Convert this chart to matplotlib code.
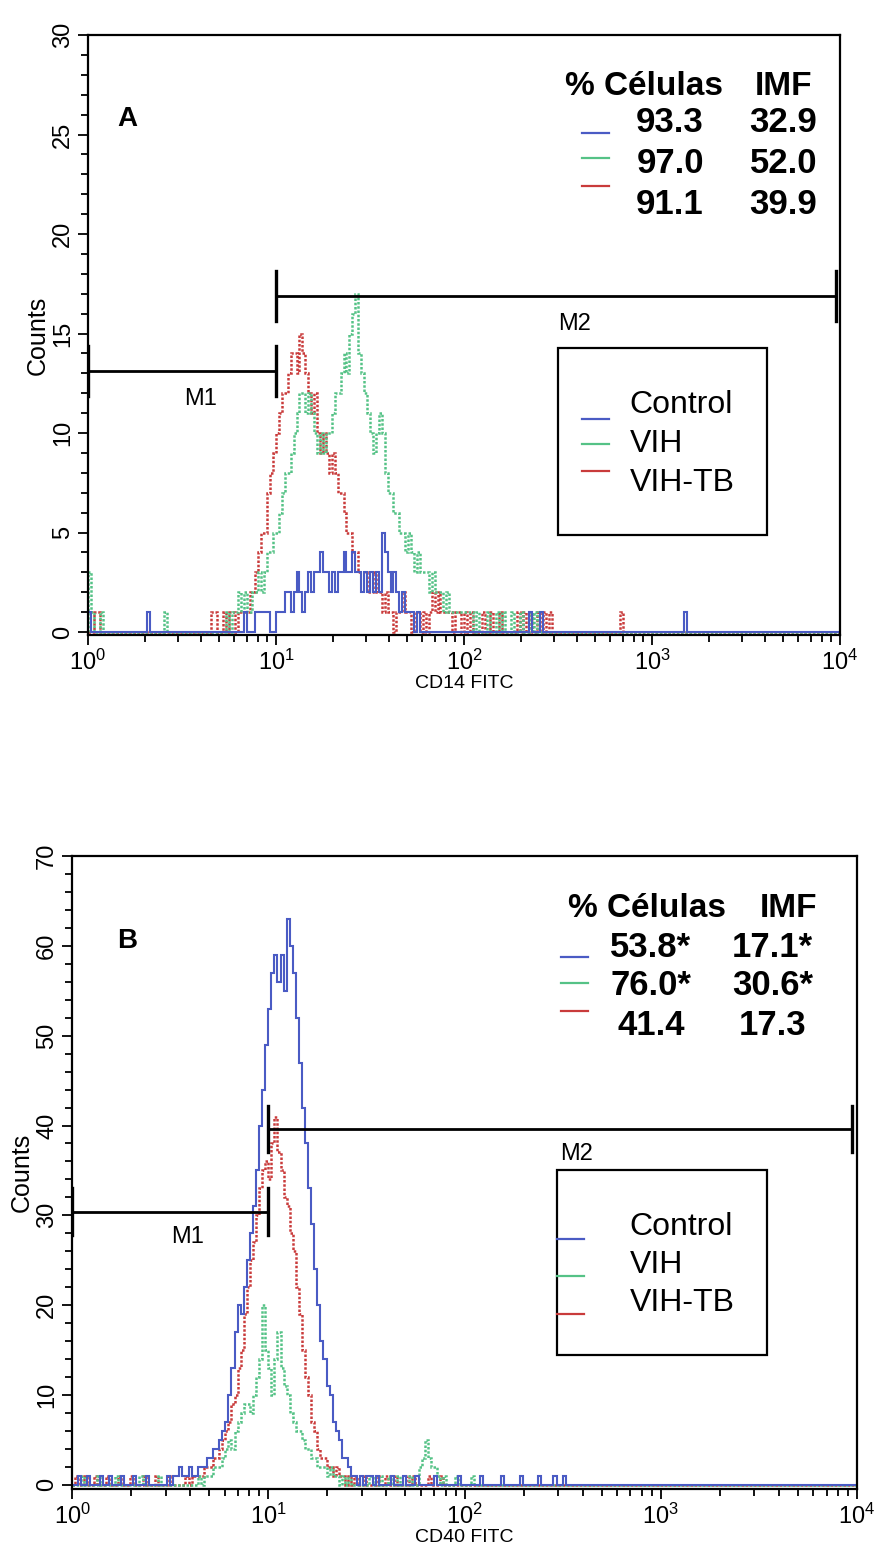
import numpy as np
import matplotlib.pyplot as plt
from matplotlib.patches import Rectangle
from matplotlib.ticker import LogLocator, MultipleLocator, NullFormatter

plt.rcParams['font.family'] = ['Liberation Sans', 'DejaVu Sans']
plt.rcParams['mathtext.default'] = 'regular'

# histogram channels: 256 channels over 4 decades (64 per decade)
N_CH = 256
CH_PER_DEC = 64

# ---- panel A: CD14 FITC ----
a_ctrl_start = 52
a_ctrl = [0, 1, 0, 0, 0, 1, 1, 1, 1, 1, 0, 0, 1, 1, 1, 2, 2, 1, 2, 3,
          2, 1, 2, 3, 2, 3, 3, 4, 3, 3, 2, 3, 2, 3, 3, 4, 3, 3, 4, 3,
          3, 2, 3, 2, 3, 2, 3, 2, 5, 4, 3, 2, 3, 2, 1, 2, 1, 1, 1, 0,
          1, 0, 0]
a_ctrl_extra = {0: 1, 20: 1, 150: 1, 154: 1, 203: 1}

a_vih_start = 46
a_vih = [0, 1, 0, 1, 1, 2, 1, 2, 1, 1, 2, 2, 3, 2, 3, 4, 4, 5, 5, 6,
         7, 8, 8, 9, 10, 11, 12, 12, 11, 12, 11, 10, 9, 10, 9, 10, 10, 11, 12, 12,
         13, 14, 13, 15, 16, 17, 14, 13, 12, 11, 10, 9, 10, 11, 10, 8, 7, 7, 6, 6,
         5, 5, 4, 5, 4, 3, 4, 3, 3, 3, 2, 3, 2, 2, 2, 1, 2, 1, 1, 1,
         1, 1, 1, 1, 1, 0, 1]
a_vih_extra = {0: 3, 1: 1, 4: 1, 26: 1, 136: 1, 139: 1, 141: 1, 144: 1,
               147: 1, 150: 1, 152: 1}

a_tb_start = 38
a_tb = [0, 0, 0, 0, 1, 1, 0, 0, 1, 0, 1, 1, 0, 1, 1, 1, 1, 2, 2, 3,
        4, 5, 5, 7, 8, 9, 10, 11, 12, 12, 13, 14, 14, 13, 15, 14, 13, 12, 11, 12,
        10, 9, 10, 9, 8, 9, 8, 7, 7, 6, 5, 5, 4, 4, 3, 3, 3, 2, 2, 3,
        2, 2, 1, 2, 1, 1, 0, 1, 1, 2, 1, 1, 0, 1, 1, 0, 1, 0, 1, 2,
        1, 2, 1, 1, 1, 1, 0, 1, 1, 0, 1, 0, 1]
a_tb_extra = {2: 1, 3: 1, 134: 1, 137: 1, 140: 1, 146: 1, 148: 1, 150: 1,
              153: 1, 155: 1, 157: 1, 181: 1}

# ---- panel B: CD40 FITC ----
b_ctrl_start = 30
b_ctrl = [0, 1, 0, 1, 1, 2, 1, 1, 2, 1, 1, 2, 2, 2, 3, 3, 4, 4, 5, 6,
          7, 10, 13, 17, 20, 19, 22, 25, 28, 31, 35, 40, 44, 49, 53, 57, 59, 56, 59, 55,
          63, 60, 57, 52, 47, 42, 38, 33, 29, 24, 20, 16, 14, 11, 10, 7, 6, 5, 3, 3,
          2, 1, 1, 0, 1, 0, 1, 1, 0, 1, 0]
b_ctrl_extra = {2: 1, 5: 1, 9: 1, 12: 1, 16: 1, 20: 1, 24: 1, 104: 1, 108: 1,
                112: 1, 118: 1, 126: 1, 133: 1, 140: 1, 146: 1, 152: 1, 157: 1, 160: 1}

b_vih_start = 40
b_vih = [0, 1, 0, 1, 1, 1, 2, 2, 2, 3, 4, 5, 4, 6, 7, 8, 9, 9, 8, 10,
         12, 14, 20, 15, 13, 10, 14, 17, 13, 11, 10, 8, 7, 6, 6, 5, 4, 4, 3, 3,
         2, 2, 2, 1, 2, 1, 1, 0, 1, 0, 1]
b_vih_extra = {3: 1, 8: 1, 14: 1, 22: 1, 28: 1, 97: 1, 100: 1, 103: 1, 106: 1,
               110: 1, 113: 2, 114: 3, 115: 5, 116: 3, 117: 2, 118: 2, 119: 1,
               121: 1, 125: 1, 130: 1}

b_tb_start = 36
b_tb = [0, 1, 0, 1, 1, 1, 1, 2, 2, 2, 3, 3, 4, 5, 6, 7, 9, 10, 13, 15,
        19, 22, 25, 27, 30, 33, 35, 36, 34, 38, 41, 37, 35, 32, 31, 28, 26, 22, 19, 15,
        12, 10, 7, 6, 4, 3, 3, 2, 2, 1, 2, 1, 1, 0, 1, 0, 1]
b_tb_extra = {1: 1, 4: 1, 7: 1, 11: 1, 15: 1, 19: 1, 23: 1, 27: 1, 31: 1,
              95: 1, 99: 1, 102: 1, 105: 1, 109: 1, 111: 1, 116: 1, 120: 1}

groups = ['Control', 'VIH', 'VIH-TB']
colors = ['#4a5bc4', '#55c286', '#c93b3b']

a_pct = ['93.3', '97.0', '91.1']
a_imf = ['32.9', '52.0', '39.9']
b_pct = ['53.8*', '76.0*', '41.4']
b_imf = ['17.1*', '30.6*', '17.3']

# marker gates: (start, end, level)
a_gates = {'M1': (1, 10, 13.1), 'M2': (10, 9500, 16.9)}
b_gates = {'M1': (1, 10, 30.4), 'M2': (10, 9400, 39.6)}


def build(start, run, extra):
    h = np.zeros(N_CH)
    h[start:start + len(run)] = run
    for c, v in extra.items():
        h[c] = v
    return h


edges = 10 ** (np.arange(N_CH + 1) / CH_PER_DEC)

fig = plt.figure(figsize=(8.85, 15.66), dpi=100)
axA = fig.add_axes([0.0994, 0.5945, 0.8497, 0.3831])
axB = fig.add_axes([0.0814, 0.0492, 0.8870, 0.4042])


def draw_panel(ax, hists, ymax, ymin, major, minor, gates, cap, xlabel):
    styles = [dict(lw=1.5, ls='-'),
              dict(lw=1.8, ls=(0, (1, 0.7))),
              dict(lw=1.8, ls=(0, (1, 0.7)))]
    for i in [2, 1, 0]:
        ax.stairs(hists[i], edges, color=colors[i], **styles[i])
    ax.set_xscale('log')
    ax.set_xlim(1, 1e4)
    ax.set_ylim(ymin, ymax)
    ax.yaxis.set_major_locator(MultipleLocator(major))
    ax.yaxis.set_minor_locator(MultipleLocator(minor))
    ax.xaxis.set_major_locator(LogLocator(base=10, numticks=10))
    ax.xaxis.set_minor_locator(LogLocator(base=10, subs=np.arange(2, 10), numticks=20))
    ax.xaxis.set_minor_formatter(NullFormatter())
    ax.tick_params(which='both', direction='out', width=1.3, colors='black')
    ax.tick_params(which='major', length=7, labelsize=17)
    ax.tick_params(which='minor', length=5)
    ax.tick_params(axis='y', which='major', labelrotation=90, pad=3)
    for lab in ax.get_yticklabels():
        lab.set_verticalalignment('center')
    for sp in ax.spines.values():
        sp.set_linewidth(1.6)
    ax.set_ylabel('Counts', fontsize=18, labelpad=2)
    ax.set_xlabel(xlabel, fontsize=14, labelpad=0)
    for name, (x0, x1, y) in gates.items():
        ax.plot([x0, x1], [y, y], color='black', lw=2)
        ax.plot([x0, x0], [y - cap, y + cap], color='black', lw=2.4)
        ax.plot([x1, x1], [y - cap, y + cap], color='black', lw=2.4)


hA = [build(a_ctrl_start, a_ctrl, a_ctrl_extra),
      build(a_vih_start, a_vih, a_vih_extra),
      build(a_tb_start, a_tb, a_tb_extra)]
hB = [build(b_ctrl_start, b_ctrl, b_ctrl_extra),
      build(b_vih_start, b_vih, b_vih_extra),
      build(b_tb_start, b_tb, b_tb_extra)]

draw_panel(axA, hA, 30, -0.15, 5, 1, a_gates, 1.25, 'CD14 FITC')
draw_panel(axB, hB, 70, -0.45, 10, 2, b_gates, 2.6, 'CD40 FITC')

# panel A annotations
axA.text(10 ** 0.21, 25.8, 'A', fontsize=20, fontweight='bold', ha='center', va='center')
axA.text(10 ** 0.6, 11.7, 'M1', fontsize=17, ha='center', va='center')
axA.text(10 ** 2.59, 15.5, 'M2', fontsize=17, ha='center', va='center')
axA.text(10 ** 2.96, 27.4, '% Células', fontsize=24, fontweight='bold', ha='center', va='center')
axA.text(10 ** 3.70, 27.4, 'IMF', fontsize=24, fontweight='bold', ha='center', va='center')
for i, y in enumerate([25.6, 23.55, 21.5]):
    axA.text(10 ** 3.096, y, a_pct[i], fontsize=25, fontweight='bold', ha='center', va='center')
    axA.text(10 ** 3.70, y, a_imf[i], fontsize=25, fontweight='bold', ha='center', va='center')
for i, y in enumerate([25.1, 23.8, 22.4]):
    axA.plot([10 ** 2.63, 10 ** 2.77], [y, y], color=colors[i], lw=1.6)
axA.add_patch(Rectangle((10 ** 2.5, 4.9), 10 ** 3.61 - 10 ** 2.5, 14.25 - 4.9,
                        fill=False, lw=1.6, ec='black'))
for i, (yt, yl) in enumerate([(11.4, 10.7), (9.45, 9.45), (7.5, 8.1)]):
    axA.text(10 ** 2.88, yt, groups[i], fontsize=23, ha='left', va='center')
    axA.plot([10 ** 2.63, 10 ** 2.77], [yl, yl], color=colors[i], lw=1.6)

# panel B annotations
axB.text(10 ** 0.28, 60.5, 'B', fontsize=20, fontweight='bold', ha='center', va='center')
axB.text(10 ** 0.59, 27.6, 'M1', fontsize=17, ha='center', va='center')
axB.text(10 ** 2.57, 36.8, 'M2', fontsize=17, ha='center', va='center')
axB.text(10 ** 2.93, 64.2, '% Células', fontsize=24, fontweight='bold', ha='center', va='center')
axB.text(10 ** 3.65, 64.2, 'IMF', fontsize=24, fontweight='bold', ha='center', va='center')
for i, y in enumerate([59.8, 55.6, 51.1]):
    axB.text(10 ** 2.95, y, b_pct[i], fontsize=25, fontweight='bold', ha='center', va='center')
    axB.text(10 ** 3.57, y, b_imf[i], fontsize=25, fontweight='bold', ha='center', va='center')
for i, y in enumerate([58.8, 55.9, 52.8]):
    axB.plot([10 ** 2.49, 10 ** 2.63], [y, y], color=colors[i], lw=1.6)
axB.add_patch(Rectangle((10 ** 2.47, 14.5), 10 ** 3.54 - 10 ** 2.47, 35.0 - 14.5,
                        fill=False, lw=1.6, ec='black'))
for i, (yt, yl) in enumerate([(28.7, 27.4), (24.5, 23.2), (20.3, 19.0)]):
    axB.text(10 ** 2.84, yt, groups[i], fontsize=23, ha='left', va='center')
    axB.plot([10 ** 2.47, 10 ** 2.61], [yl, yl], color=colors[i], lw=1.6)

fig.savefig('out.png', dpi=100)
